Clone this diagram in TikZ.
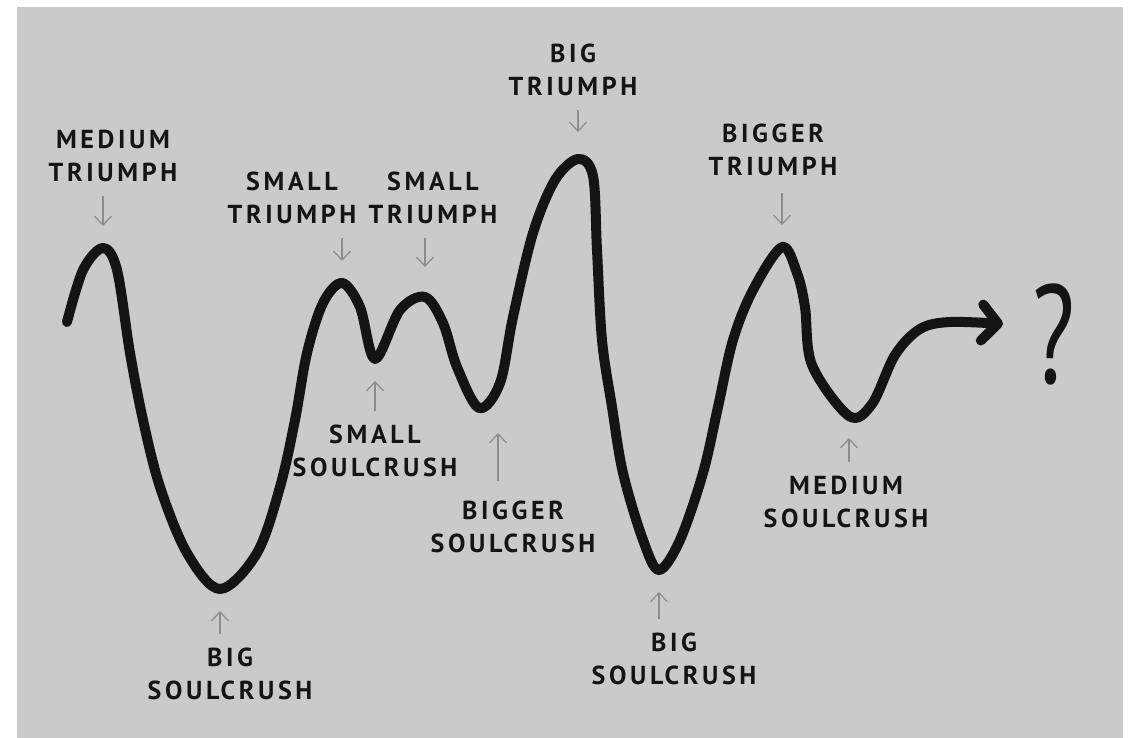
\documentclass[tikz,border=0pt]{standalone}
\usepackage{fontspec}
\setmainfont{PT Sans}
\usetikzlibrary{arrows.meta}
\definecolor{paper}{HTML}{CACACA}
\definecolor{ink}{HTML}{141414}
\definecolor{pointer}{HTML}{8C8C8C}

\begin{document}
\begin{tikzpicture}[x=1pt,y=-1pt,every node/.style={font=\fontsize{26}{33}\selectfont\bfseries\addfontfeature{LetterSpace=14},text=ink}]
    \tikzstyle{lbl}=[align=center,inner sep=0pt]
    \tikzstyle{ptr}=[-{Straight Barb[length=9pt,width=17pt]},line width=1.2pt,draw=pointer,
                     shorten <=14pt,shorten >=22pt]
    \tikzstyle{wave}=[line width=10pt,draw=ink,line cap=round,line join=round]
    \useasboundingbox (0,0) rectangle (1138,738);
    \fill[white] (0,0) rectangle (1138,738);
    \fill[paper] (17,7) rectangle (1123,738);

    \coordinate (m1) at (103,248);
    \coordinate (b1) at (220,589);
    \coordinate (s1) at (342,283);
    \coordinate (d1) at (375,359);
    \coordinate (s2) at (425,297);
    \coordinate (d2) at (479,408);
    \coordinate (d2p) at (498,411);
    \coordinate (t1) at (578,159);
    \coordinate (b2) at (659,570);
    \coordinate (t2) at (782,247);
    \coordinate (d3) at (849,416);

    \draw[wave,-{Straight Barb[length=16pt,width=36pt,round]}] plot[smooth,tension=0.55] coordinates {
        (67,322) (83,270) (m1) (117,270) (130,353) (143,420) (160,487) (187,553) (b1)
        (257,553) (280,487) (295,420) (307,353) (323,303) (s1) (360,307) (d1) (400,310) (s2)
        (443,323) (457,367) (d2) (500,383) (513,317) (533,233) (555,180) (t1) (593,176)
        (597,250) (602,340) (612,407) (623,473) (643,540) (b2) (680,540) (703,473) (718,407)
        (733,340) (753,290) (t2) (797,273) (805,307) (812,365) (d3) (872,404) (895,355)
        (920,329) (950,322) (1003,324)};

    \node[lbl] (mt)  at (113,156) {MEDIUM\\TRIUMPH};
    \node[lbl] (st1) at (292,198) {SMALL\\TRIUMPH};
    \node[lbl] (st2) at (433,198) {SMALL\\TRIUMPH};
    \node[lbl] (bt)  at (573,70)  {BIG\\TRIUMPH};
    \node[lbl] (bgt) at (773,150) {BIGGER\\TRIUMPH};
    \node[lbl] (ss)  at (375,451) {SMALL\\SOULCRUSH};
    \node[lbl] (bgs) at (513,527) {BIGGER\\SOULCRUSH};
    \node[lbl] (bs1) at (230,674) {BIG\\SOULCRUSH};
    \node[lbl] (bs2) at (674,659) {BIG\\SOULCRUSH};
    \node[lbl] (ms)  at (846,502) {MEDIUM\\SOULCRUSH};
    \node[inner sep=0pt] (q) at (1054,334) {\scalebox{0.7}[1]{\fontsize{140}{140}\selectfont\mdseries ?}};

    \draw[ptr] (mt.south -| m1) -- (m1);
    \draw[ptr] (st1.south -| s1) -- (s1);
    \draw[ptr,shorten >=30pt] (st2.south -| s2) -- (s2);
    \draw[ptr,shorten >=27pt] (bt.south -| t1) -- (t1);
    \draw[ptr,shorten <=17pt] (bgt.south -| t2) -- (t2);
    \draw[ptr] (ss.north -| d1) -- (d1);
    \draw[ptr,shorten <=20pt] (bgs.north -| d2p) -- (d2p);
    \draw[ptr] (bs1.north -| b1) -- (b1);
    \draw[ptr] (bs2.north -| b2) -- (b2);
    \draw[ptr] (ms.north -| d3) -- (d3);
  \end{tikzpicture}
\end{document}
